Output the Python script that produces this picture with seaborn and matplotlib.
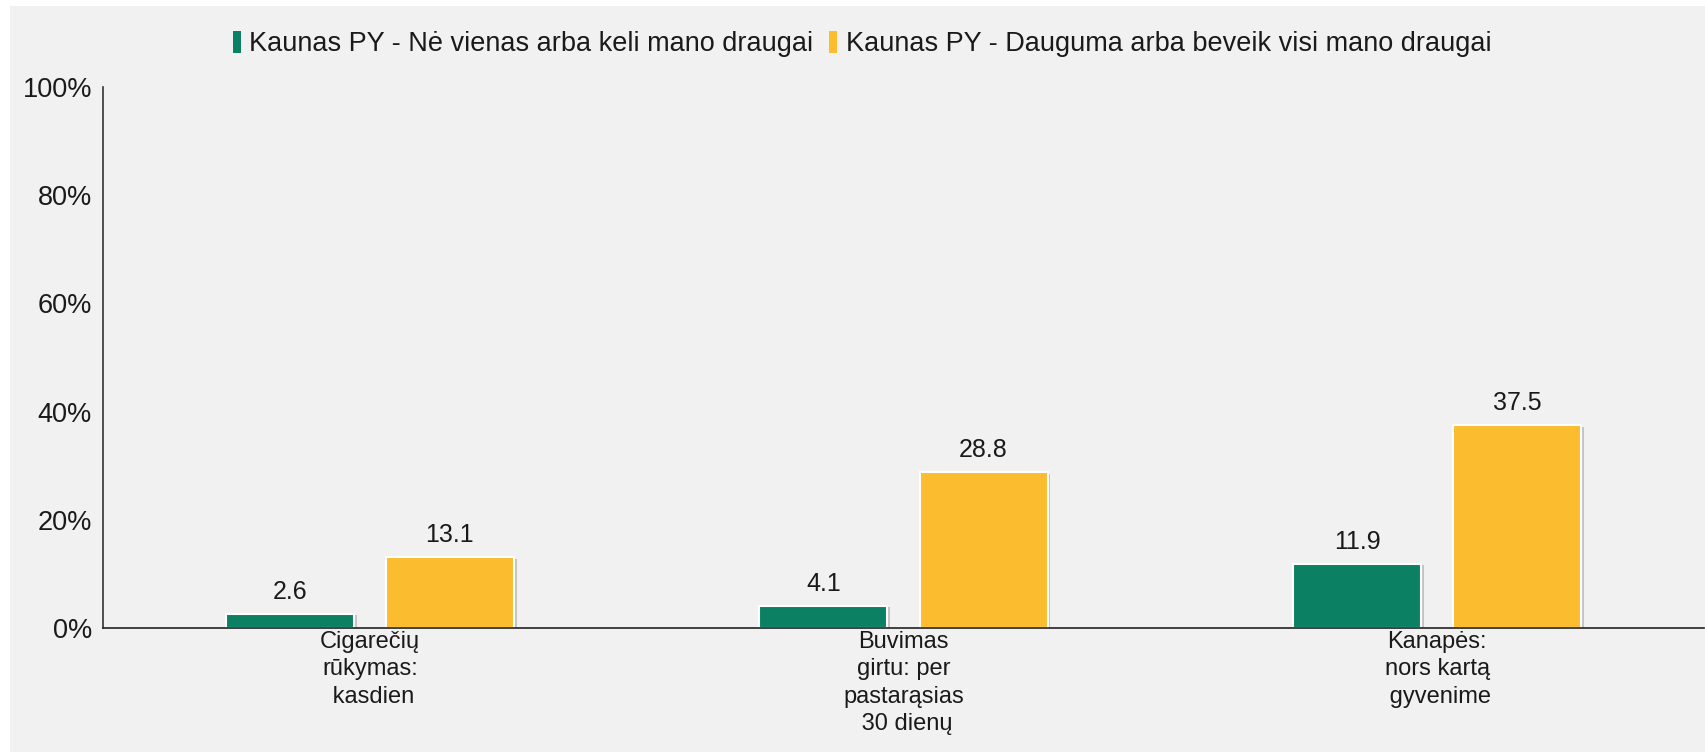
import matplotlib
matplotlib.use("Agg")
import matplotlib.pyplot as plt
import matplotlib.patches as mpatches
import matplotlib.patheffects as pe
from matplotlib.ticker import FixedLocator, FuncFormatter
import seaborn as sns
import pandas as pd

categories = ["Cigarečių\nrūkymas:\n kasdien",
              "Buvimas\ngirtu: per\npastarąsias\n 30 dienų",
              "Kanapės:\nnors kartą\n gyvenime"]
series_names = ["Kaunas PY - Nė vienas arba keli mano draugai",
                "Kaunas PY - Dauguma arba beveik visi mano draugai"]
values_few = [2.6, 4.1, 11.9]
values_most = [13.1, 28.8, 37.5]
colors = ["#0b8063", "#fbbd2f"]
y_ticks = [0, 20, 40, 60, 80, 100]

df = pd.DataFrame({
    "cat": categories * 2,
    "series": [series_names[0]] * 3 + [series_names[1]] * 3,
    "val": values_few + values_most,
})

sns.set_theme(style="white")
plt.rcParams["font.family"] = ["Liberation Sans", "DejaVu Sans"]

fig = plt.figure(figsize=(17.06, 7.52), dpi=100, facecolor="#f1f1f1")
# white strip at top and left
fig.patches.append(mpatches.Rectangle((0, 1 - 6 / 752), 1, 6 / 752, transform=fig.transFigure,
                                      facecolor="white", edgecolor="none", zorder=0))
fig.patches.append(mpatches.Rectangle((0, 0), 10 / 1706, 1, transform=fig.transFigure,
                                      facecolor="white", edgecolor="none", zorder=0))

ax = fig.add_axes([103 / 1706, 1 - 628 / 752, 1601 / 1706, (628 - 87) / 752])
ax.set_facecolor("#f1f1f1")

sns.barplot(data=df, x="cat", y="val", hue="series", palette=colors, width=0.6, gap=0.2,
            saturation=1, edgecolor="white", linewidth=1.5, ax=ax, legend=True)

for p in ax.patches:
    p.set_path_effects([pe.SimplePatchShadow(offset=(2, -1), shadow_rgbFace="#999999", alpha=0.5),
                        pe.Normal()])

for c in ax.containers:
    ax.bar_label(c, fmt="%.1f", padding=7, fontsize=18, color="#1a1a1a")

ax.set_xlim(-0.5, 2.5)
ax.set_ylim(0, 100)
ax.yaxis.set_major_locator(FixedLocator(y_ticks))
ax.yaxis.set_major_formatter(FuncFormatter(lambda v, _: f"{int(v)}%"))
ax.tick_params(axis="y", length=0, pad=8, labelsize=19.5, labelcolor="#1a1a1a")
ax.tick_params(axis="x", which="major", length=0, pad=2, labelsize=17, labelcolor="#1a1a1a")
ax.xaxis.set_minor_locator(FixedLocator([-0.5, 0.5, 1.5, 2.5]))
ax.tick_params(axis="x", which="minor", length=10, width=1.2, color="#333333", direction="out")
for lbl in ax.get_xticklabels():
    lbl.set_multialignment("center")
    lbl.set_linespacing(1.32)
ax.set_xlabel("")
ax.set_ylabel("")
for s in ["top", "right"]:
    ax.spines[s].set_visible(False)
ax.spines["left"].set_color("#333333")
ax.spines["bottom"].set_color("#222222")
ax.spines["left"].set_linewidth(1.2)
ax.spines["bottom"].set_linewidth(1.2)

leg = ax.get_legend()
leg.remove()
handles = [mpatches.Rectangle((0, 0), 1, 1, facecolor=c, edgecolor="none") for c in colors]
fig.legend(handles, series_names, loc="center", bbox_to_anchor=(862 / 1706, 1 - 44 / 752),
           ncol=2, frameon=False, fontsize=19.5, handlelength=0.3, handleheight=0.9,
           handletextpad=0.3, columnspacing=0.6, labelcolor="#1a1a1a")

fig.savefig("out.png", dpi=100, facecolor=fig.get_facecolor())
